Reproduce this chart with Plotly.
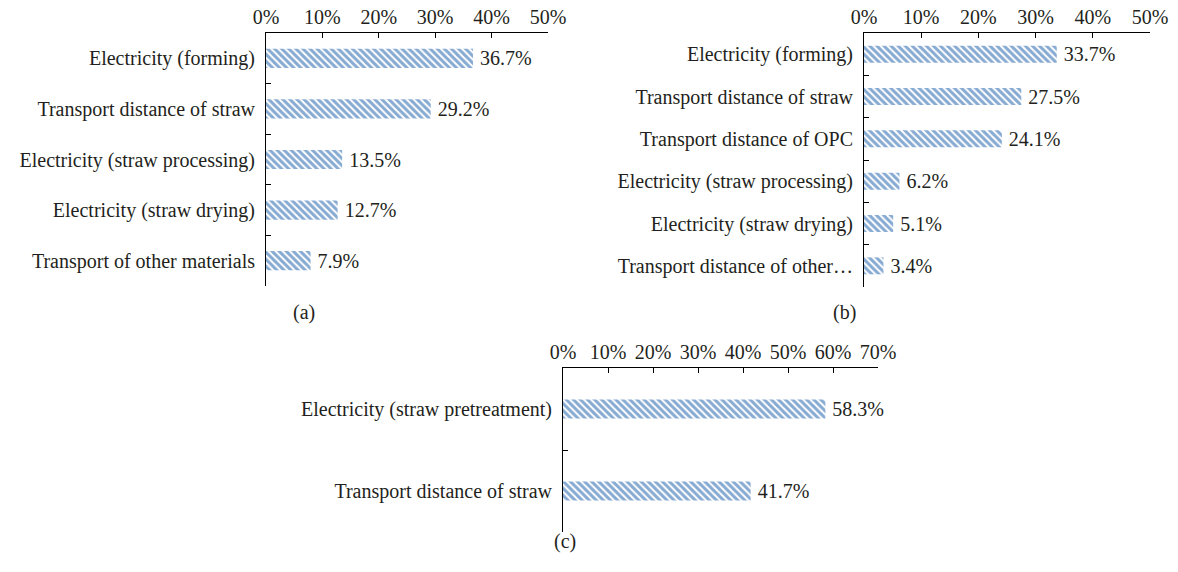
import plotly.graph_objects as go

W, H = 1178, 572

cats_a = ["Electricity (forming)", "Transport distance of straw", "Electricity (straw processing)",
          "Electricity (straw drying)", "Transport of other materials"]
vals_a = [36.7, 29.2, 13.5, 12.7, 7.9]

cats_b = ["Electricity (forming)", "Transport distance of straw", "Transport distance of OPC",
          "Electricity (straw processing)", "Electricity (straw drying)", "Transport distance of other…"]
vals_b = [33.7, 27.5, 24.1, 6.2, 5.1, 3.4]

cats_c = ["Electricity (straw pretreatment)", "Transport distance of straw"]
vals_c = [58.3, 41.7]

ticks_a = [0, 10, 20, 30, 40, 50]
ticks_c = [0, 10, 20, 30, 40, 50, 60, 70]

BLUE = "#0F56A6"
TXT = "#231F20"
FONT = "Liberation Serif"
FS = 20

def px_x(p):
    return p / W

def px_y(p):
    return 1 - p / H

fig = go.Figure()

def add_bar(cats, vals, xa, ya, width):
    fig.add_trace(go.Bar(
        y=cats, x=vals, orientation="h", xaxis=xa, yaxis=ya,
        width=width,
        marker=dict(color="white", line=dict(color=BLUE, width=0),
                    pattern=dict(shape="\\", fgcolor=BLUE, bgcolor="white", size=5, solidity=0.6,
                                 fillmode="overlay")),
        text=[f"\u2009{v:.1f}%" for v in vals], textposition="outside", constraintext="none",
        textfont=dict(family=FONT, size=FS, color=TXT), outsidetextfont=dict(family=FONT, size=FS, color=TXT),
        cliponaxis=False, showlegend=False, hoverinfo="skip"))

add_bar(cats_a, vals_a, "x", "y", 0.38)
add_bar(cats_b, vals_b, "x2", "y2", 0.40)
add_bar(cats_c, vals_c, "x3", "y3", 0.23)

xcommon = dict(side="top", showline=True, linecolor="black", linewidth=1, ticks="inside", ticklen=5,
               tickcolor="black", showgrid=False, zeroline=False, automargin=False,
               tickfont=dict(family=FONT, size=FS, color=TXT), fixedrange=True)
ycommon = dict(showline=True, linecolor="black", linewidth=1, ticks="inside", ticklen=5,
               tickcolor="black", tickson="boundaries", showgrid=False, autorange="reversed",
               automargin=False,
               tickfont=dict(family=FONT, size=FS, color=TXT), ticklabelstandoff=6, fixedrange=True)

fig.update_layout(
    width=W, height=H, margin=dict(l=0, r=0, t=0, b=0, autoexpand=False),
    paper_bgcolor="white", plot_bgcolor="white",
    xaxis=dict(xcommon, domain=[px_x(266), px_x(548)], range=[0, 50], tickvals=ticks_a,
               ticktext=[f"{t}%" for t in ticks_a], anchor="y"),
    yaxis=dict(ycommon, domain=[px_y(286), px_y(33)], anchor="x"),
    xaxis2=dict(xcommon, domain=[px_x(864), px_x(1150)], range=[0, 50], tickvals=ticks_a,
                ticktext=[f"{t}%" for t in ticks_a], anchor="y2"),
    yaxis2=dict(ycommon, domain=[px_y(287), px_y(33)], anchor="x2"),
    xaxis3=dict(xcommon, domain=[px_x(563), px_x(878)], range=[0, 70], tickvals=ticks_c,
                ticktext=[f"{t}%" for t in ticks_c], anchor="y3"),
    yaxis3=dict(ycommon, domain=[px_y(532), px_y(368)], anchor="x3"),
    annotations=[
        dict(text="(a)", x=px_x(291), y=px_y(312), xref="paper", yref="paper", showarrow=False,
             font=dict(family=FONT, size=FS, color=TXT)),
        dict(text="(b)", x=px_x(858), y=px_y(312), xref="paper", yref="paper", showarrow=False,
             font=dict(family=FONT, size=FS, color=TXT)),
        dict(text="(c)", x=px_x(565), y=px_y(555), xref="paper", yref="paper", showarrow=False,
             font=dict(family=FONT, size=FS, color=TXT)),
    ],
)

fig.write_html("out.html", config={"displayModeBar": False},
               post_script="document.body.style.margin='0';document.body.style.overflow='hidden';")
